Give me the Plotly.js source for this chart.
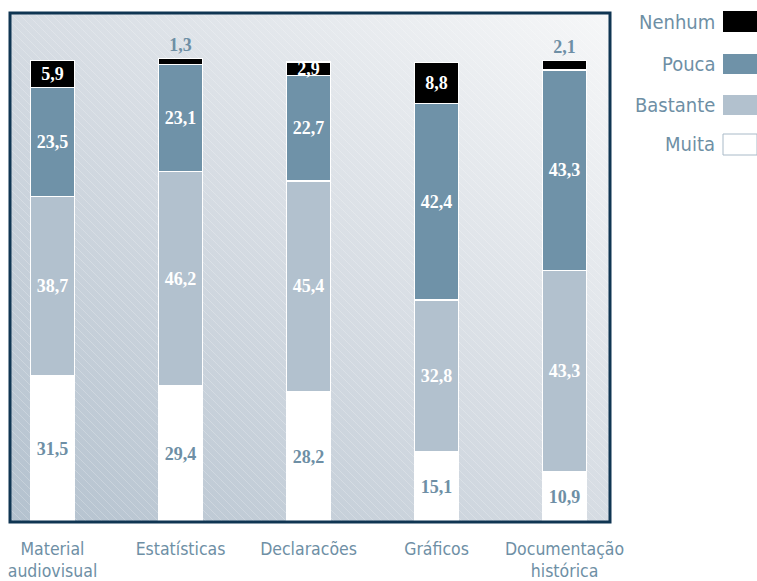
<!DOCTYPE html>
<html>
<head>
<meta charset="utf-8">
<script src="https://cdn.plot.ly/plotly-3.0.1.min.js"></script>
<style>html,body{margin:0;padding:0;background:#fff;}#chart{width:757px;height:581px;}</style>
</head>
<body>
<div id="chart"></div>
<script>
// ---- data ----
var categories = ["Material<br>audiovisual", "Estatísticas", "Declaracões", "Gráficos", "Documentação<br>histórica"];
var muita    = [31.5, 29.4, 28.2, 15.1, 10.9];
var bastante = [38.7, 46.2, 45.4, 32.8, 43.3];
var pouca    = [23.5, 23.1, 22.7, 42.4, 43.3];
var nenhum   = [5.9, 1.3, 2.9, 8.8, 2.1];
var seriesNames = ["Muita", "Bastante", "Pouca", "Nenhum"];

// ---- styling ----
var W = 757, H = 581;
var PL = 10, PR = 610, PT = 13, PB = 522;
var blueText = "#6e8fa5";
var colors = {"Muita": "#ffffff", "Bastante": "#b2c1ce", "Pouca": "#6f92a8", "Nenhum": "#000000"};
var narrow = "Liberation Sans Narrow, DejaVu Sans Condensed, Arial Narrow, sans-serif";
var serif = "Liberation Serif, Times New Roman, serif";

function fmt(v) { return v.toFixed(1).replace(".", ","); }
var xs = categories.map(function (_, i) { return i; });

function barTrace(name, vals, insideColor, positions) {
  return {
    type: "bar",
    name: name,
    x: xs,
    y: vals,
    width: 0.345,
    marker: {color: colors[name], line: {color: "#ffffff", width: 1.5}},
    text: vals.map(fmt),
    textposition: positions || "inside",
    insidetextanchor: "middle",
    constraintext: "none",
    cliponaxis: false,
    textfont: {family: serif, size: 18, color: insideColor, weight: "bold"},
    insidetextfont: {family: serif, size: 18, color: insideColor, weight: "bold"},
    outsidetextfont: {family: serif, size: 18, color: blueText, weight: "bold"},
    hoverinfo: "skip",
    showlegend: false
  };
}

var nenhumPos = nenhum.map(function (v) { return v < 2.5 ? "outside" : "inside"; });

var data = [
  barTrace("Muita", muita, blueText),
  barTrace("Bastante", bastante, "#ffffff"),
  barTrace("Pouca", pouca, "#ffffff"),
  barTrace("Nenhum", nenhum, "#ffffff", nenhumPos)
];

// background gradient with faint hatching
var pw = PR - PL, ph = PB - PT;
var svg = '<svg xmlns="http://www.w3.org/2000/svg" width="' + pw + '" height="' + ph + '" viewBox="0 0 ' + pw + ' ' + ph + '">' +
  '<defs><linearGradient id="g" x1="0" y1="1" x2="1" y2="0">' +
  '<stop offset="0" stop-color="#b3c1ce"/><stop offset="0.5" stop-color="#d6dce3"/><stop offset="1" stop-color="#f6f7f8"/></linearGradient>' +
  '<pattern id="p" patternUnits="userSpaceOnUse" width="8" height="8"><path d="M-2,-2 L10,10" stroke="#ffffff" stroke-opacity="0.22" stroke-width="1"/></pattern></defs>' +
  '<rect width="100%" height="100%" fill="url(#g)"/><rect width="100%" height="100%" fill="url(#p)"/></svg>';
var bgURI = "data:image/svg+xml;charset=utf-8," + encodeURIComponent(svg);

function px(x) { return (x - PL) / pw; }
function py(y) { return (PB - y) / ph; }

// legend (drawn manually: text to the left of swatches)
var legendItems = [
  {name: "Nenhum", y0: 11, y1: 32},
  {name: "Pouca", y0: 54, y1: 74},
  {name: "Bastante", y0: 95, y1: 115},
  {name: "Muita", y0: 134, y1: 155}
];
var shapes = [
  {type: "rect", xref: "paper", yref: "paper", x0: 0, x1: 1, y0: 0, y1: 1,
   line: {color: "#0f3552", width: 3}, fillcolor: "rgba(0,0,0,0)", layer: "above"}
];
var annotations = [];
legendItems.forEach(function (it) {
  shapes.push({type: "rect", xref: "paper", yref: "paper",
    x0: px(723), x1: px(757), y0: py(it.y1), y1: py(it.y0),
    fillcolor: colors[it.name],
    line: {color: it.name === "Muita" ? "#a9bac8" : colors[it.name], width: it.name === "Muita" ? 1 : 0}});
  annotations.push({xref: "paper", yref: "paper", x: px(717), y: py((it.y0 + it.y1) / 2),
    xanchor: "right", yanchor: "middle", showarrow: false, text: it.name,
    font: {family: narrow, size: 20, color: blueText}});
});

var layout = {
  width: W, height: H,
  margin: {l: PL, r: W - PR, t: PT, b: H - PB, pad: 0},
  paper_bgcolor: "#ffffff",
  plot_bgcolor: "rgba(0,0,0,0)",
  barmode: "stack",
  showlegend: false,
  xaxis: {
    range: [-0.332, 4.355],
    tickmode: "array", tickvals: xs, ticktext: categories,
    showgrid: false, zeroline: false, showline: false, ticks: "",
    tickfont: {family: narrow, size: 17.5, color: blueText},
    ticklabelstandoff: 14,
    fixedrange: true
  },
  yaxis: {
    range: [0, 109.8],
    showgrid: false, zeroline: false, showline: false, showticklabels: false, ticks: "",
    fixedrange: true
  },
  images: [{source: bgURI, xref: "paper", yref: "paper", x: 0, y: 1, sizex: 1, sizey: 1,
            sizing: "stretch", xanchor: "left", yanchor: "top", layer: "below"}],
  shapes: shapes,
  annotations: annotations
};

Plotly.newPlot("chart", data, layout, {displayModeBar: false, staticPlot: true});
</script>
</body>
</html>
